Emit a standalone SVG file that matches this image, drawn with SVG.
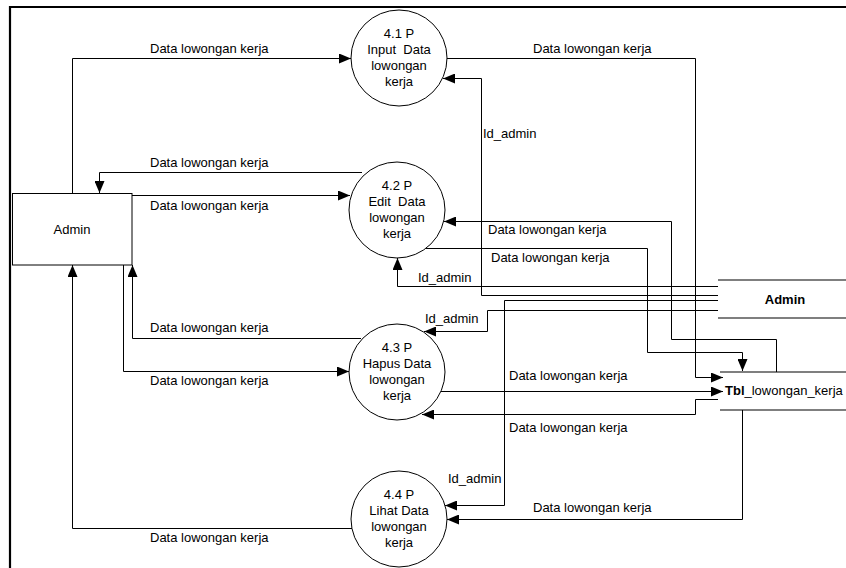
<svg xmlns="http://www.w3.org/2000/svg" width="846" height="568" viewBox="0 0 846 568">
<style>
text{font-family:"Liberation Sans",Arial,sans-serif;font-size:13px;fill:#000}
.c{text-anchor:middle}
.b{font-weight:bold}
.ln{fill:none;stroke:#000;stroke-width:1}
.ar{marker-end:url(#ah)}
.nd{fill:#fff;stroke:#000;stroke-width:1}
.st{stroke:#000;stroke-width:1.2}
</style>
<defs>
<marker id="ah" markerUnits="userSpaceOnUse" markerWidth="12" markerHeight="10" refX="12" refY="5" orient="auto">
<path d="M0,0 L12,5 L0,10 z" fill="#000"/>
</marker>
</defs>
<rect x="0" y="0" width="846" height="568" fill="#fff"/>
<path d="M10,568 V7 H846" fill="none" stroke="#000" stroke-width="2.2"/>

<g id="connectors">
<!-- Admin -> 4.1 -->
<path class="ln ar" d="M72.5,193 V58.5 H351"/>
<!-- 4.1 -> Tbl -->
<path class="ln ar" d="M447,58.5 H695.5 V377.5 H723"/>
<!-- Id_admin -> 4.1 -->
<path class="ln ar" d="M718,295.5 H481.5 V78.5 H443"/>
<!-- 4.2 -> Admin -->
<path class="ln ar" d="M362,172.5 H99.5 V193"/>
<!-- Admin -> 4.2 -->
<path class="ln ar" d="M132,195.5 H350"/>
<!-- Tbl -> 4.2 -->
<path class="ln ar" d="M776.5,372 V339.5 H671.5 V221.5 H444"/>
<!-- 4.2 -> Tbl -->
<path class="ln ar" d="M426,248.5 H647.5 V352.5 H742.5 V371"/>
<!-- Id_admin -> 4.2 -->
<path class="ln ar" d="M718,286.5 H397.5 V258"/>
<!-- Id_admin -> 4.3 -->
<path class="ln ar" d="M718,310.5 H487.5 V331.5 H424"/>
<!-- Id_admin -> 4.4 -->
<path class="ln ar" d="M718,300.5 H504.5 V505.5 H445"/>
<!-- 4.3 -> Admin -->
<path class="ln ar" d="M361,338.5 H132.5 V265"/>
<!-- Admin -> 4.3 -->
<path class="ln ar" d="M123.5,265 V371.5 H349"/>
<!-- 4.3 -> Tbl -->
<path class="ln ar" d="M441,391.5 H723"/>
<!-- Tbl -> 4.3 -->
<path class="ln ar" d="M718,399.5 H695.5 V414.5 H422"/>
<!-- Tbl -> 4.4 -->
<path class="ln ar" d="M742.5,410 V519.5 H447"/>
<!-- 4.4 -> Admin -->
<path class="ln ar" d="M352,528.5 H72.5 V265"/>

<text x="150" y="53">Data lowongan kerja</text>
<text x="533" y="53">Data lowongan kerja</text>
<text x="483" y="138">Id_admin</text>
<text x="150" y="167">Data lowongan kerja</text>
<text x="150" y="210">Data lowongan kerja</text>
<text x="488" y="234">Data lowongan kerja</text>
<text x="491" y="262">Data lowongan kerja</text>
<text x="418" y="282">Id_admin</text>
<text x="425" y="323">Id_admin</text>
<text x="150" y="332">Data lowongan kerja</text>
<text x="509" y="380">Data lowongan kerja</text>
<text x="150" y="385">Data lowongan kerja</text>
<text x="509" y="432">Data lowongan kerja</text>
<text x="448" y="483">Id_admin</text>
<text x="533" y="512">Data lowongan kerja</text>
<text x="150" y="542">Data lowongan kerja</text>
</g>

<g id="admin">
<rect class="nd" x="12.5" y="193.5" width="119.5" height="71.5" stroke="#444" stroke-width="1.5"/>
<text class="c" x="72" y="234">Admin</text>
</g>

<g id="p41">
<circle class="nd" cx="399" cy="58" r="48"/>
<text class="c" x="399" y="38" xml:space="preserve">4.1 P</text>
<text class="c" x="399" y="54" xml:space="preserve">Input  Data</text>
<text class="c" x="399" y="70">lowongan</text>
<text class="c" x="399" y="86">kerja</text>
</g>

<g id="p42">
<circle class="nd" cx="397" cy="210" r="48"/>
<text class="c" x="397" y="190">4.2 P</text>
<text class="c" x="397" y="206" xml:space="preserve">Edit  Data</text>
<text class="c" x="397" y="222">lowongan</text>
<text class="c" x="397" y="238">kerja</text>
</g>

<g id="p43">
<circle class="nd" cx="397" cy="372" r="48"/>
<text class="c" x="397" y="352">4.3 P</text>
<text class="c" x="397" y="368">Hapus Data</text>
<text class="c" x="397" y="384">lowongan</text>
<text class="c" x="397" y="400">kerja</text>
</g>

<g id="p44">
<circle class="nd" cx="399" cy="519" r="48"/>
<text class="c" x="399" y="499">4.4 P</text>
<text class="c" x="399" y="515">Lihat Data</text>
<text class="c" x="399" y="531">lowongan</text>
<text class="c" x="399" y="547">kerja</text>
</g>

<g id="store_admin">
<path class="st" d="M718,280 H846 M718,318 H846"/>
<text class="c b" x="785" y="304">Admin</text>
</g>

<g id="store_tbl">
<path class="st" d="M720,372 H846 M720,410 H846"/>
<text x="725" y="395"><tspan class="b">Tbl</tspan>_lowongan_kerja</text>
</g>
</svg>
